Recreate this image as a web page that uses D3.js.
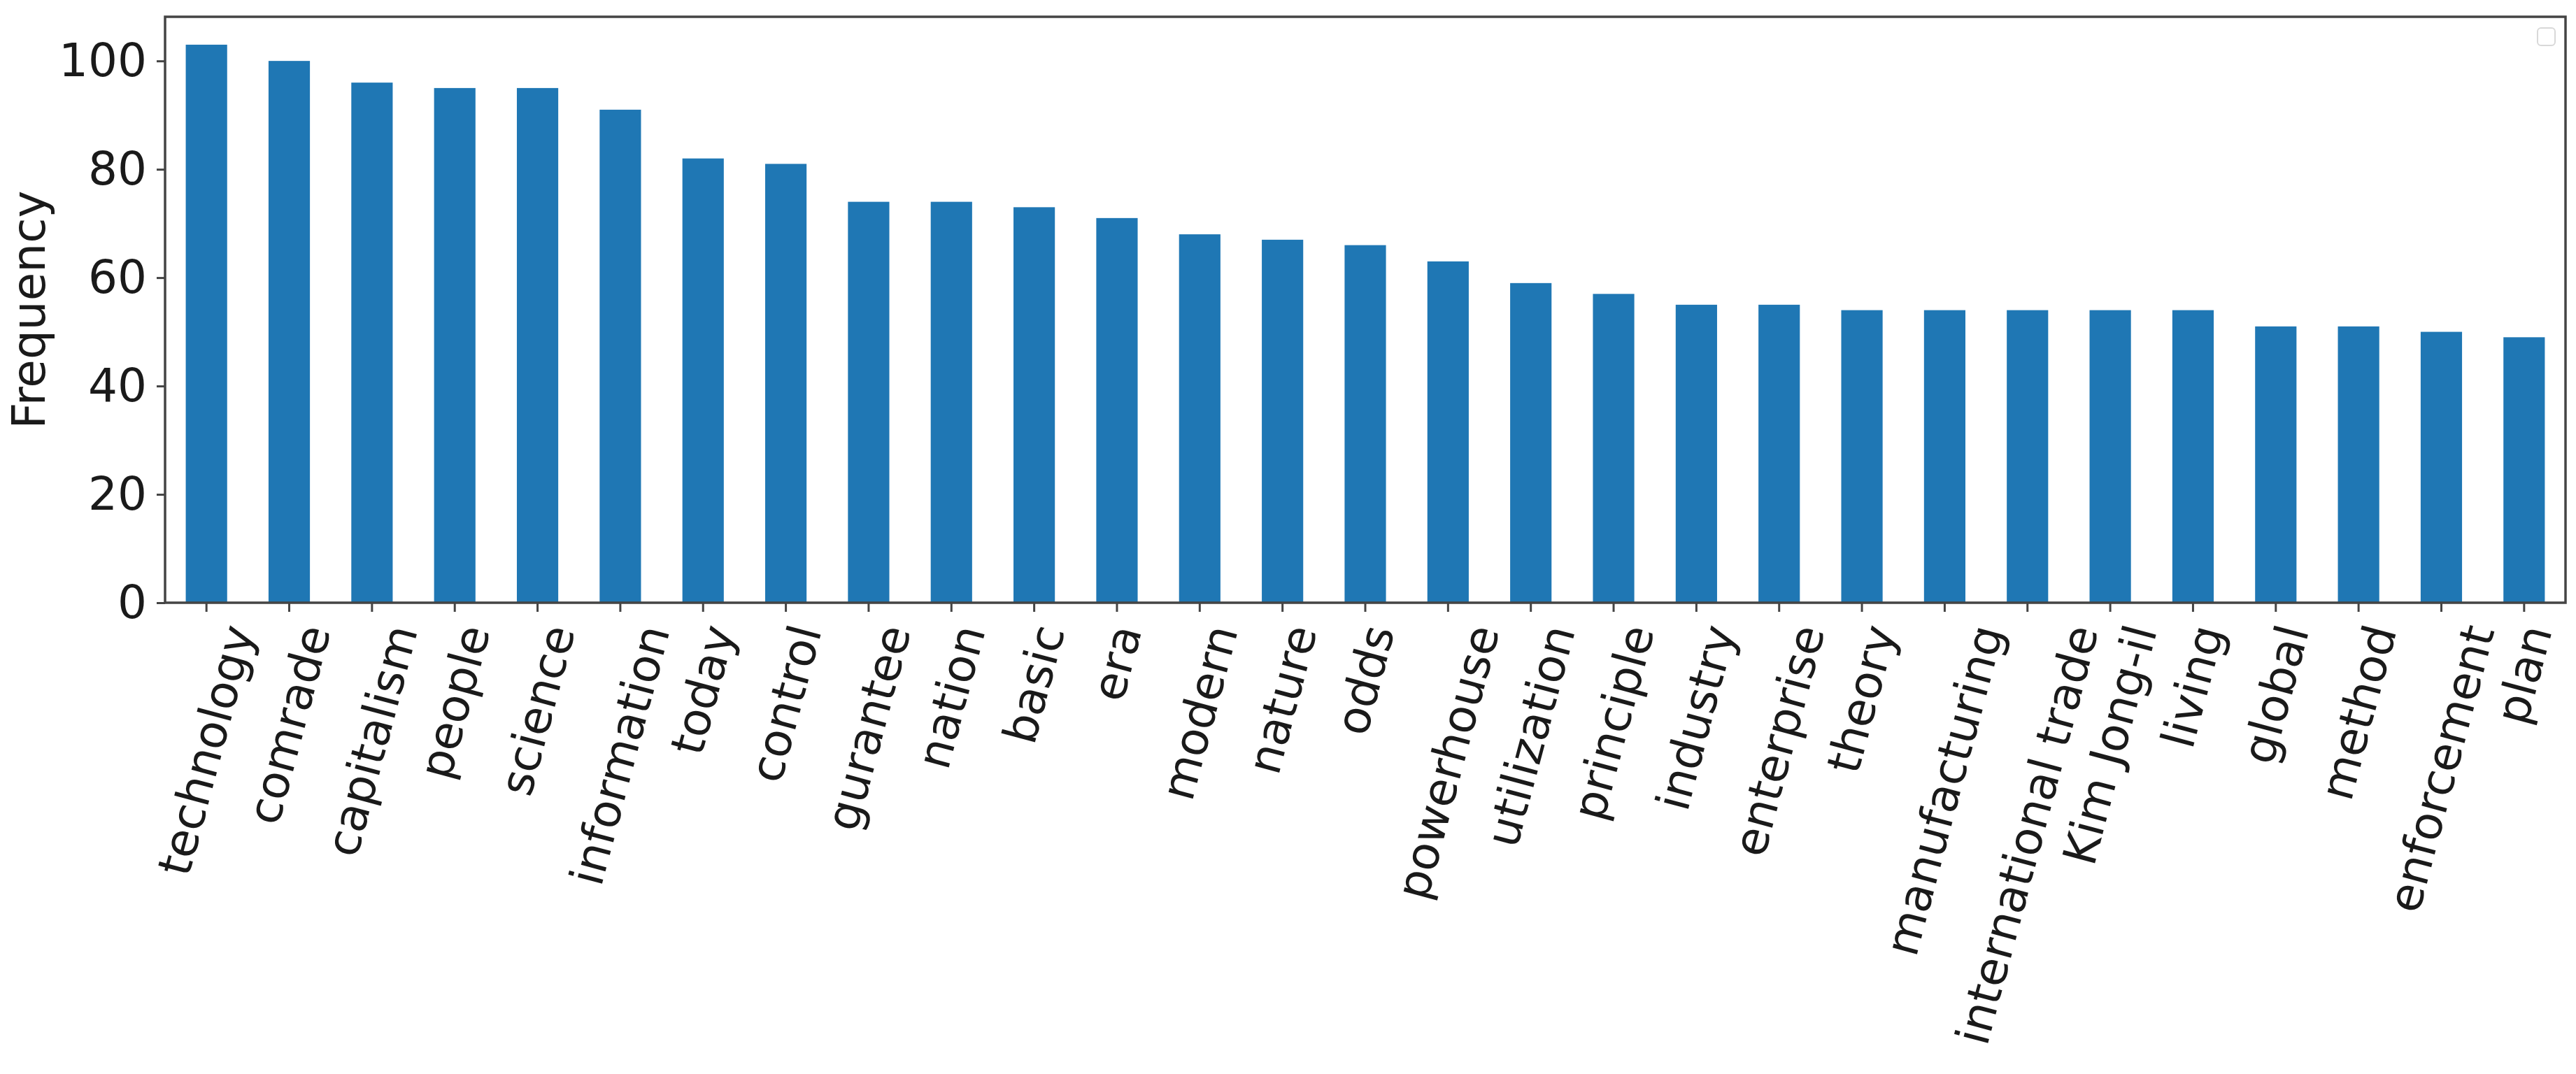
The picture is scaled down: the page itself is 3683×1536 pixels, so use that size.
<!DOCTYPE html>
<html>
<head>
<meta charset="utf-8">
<script src="https://cdn.jsdelivr.net/npm/d3@7"></script>
<style>
  html, body { margin: 0; padding: 0; background: #fff; }
  svg { display: block; }
  text { font-family: "DejaVu Sans", sans-serif; fill: #1a1a1a; }
</style>
</head>
<body>
<script>
const categories = ["technology", "comrade", "capitalism", "people", "science", "information", "today", "control", "gurantee", "nation", "basic", "era", "modern", "nature", "odds", "powerhouse", "utilization", "principle", "industry", "enterprise", "theory", "manufacturing", "international trade", "Kim Jong-il", "living", "global", "method", "enforcement", "plan"];
const frequencies = [103, 100, 96, 95, 95, 91, 82, 81, 74, 74, 73, 71, 68, 67, 66, 63, 59, 57, 55, 55, 54, 54, 54, 54, 54, 51, 51, 50, 49];
const yTicks = [0, 20, 40, 60, 80, 100];
const yLabel = "Frequency";

const W = 3683, H = 1536;
const m = { left: 236, right: W - 3668, top: 24, bottom: H - 862 };
const fontSize = 66;

const svg = d3.select("body").append("svg").attr("width", W).attr("height", H);

const x = d3.scaleBand().domain(categories).range([m.left, W - m.right]).paddingInner(0.5).paddingOuter(0.25);
const y = d3.scaleLinear().domain([0, d3.max(frequencies) * 1.05]).range([H - m.bottom, m.top]);

const data = categories.map((c, i) => ({ c, v: frequencies[i] }));

svg.append("g").selectAll("rect").data(data).join("rect")
  .attr("x", d => x(d.c))
  .attr("width", x.bandwidth())
  .attr("y", d => y(d.v))
  .attr("height", d => y(0) - y(d.v))
  .attr("fill", "#1f77b4");

// y axis
const yAxis = svg.append("g").attr("transform", `translate(${m.left},0)`)
  .call(d3.axisLeft(y).tickValues(yTicks).tickSize(12).tickPadding(14).tickFormat(d3.format("d")));
yAxis.select(".domain").remove();
yAxis.selectAll(".tick line").attr("stroke", "#444").attr("stroke-width", 3);
yAxis.selectAll(".tick text").attr("font-size", fontSize).attr("font-family", "DejaVu Sans").attr("fill", "#1a1a1a");

// x axis
const xAxis = svg.append("g").attr("transform", `translate(0,${H - m.bottom})`)
  .call(d3.axisBottom(x).tickSize(13).tickPadding(0));
xAxis.select(".domain").remove();
xAxis.selectAll(".tick line").attr("stroke", "#444").attr("stroke-width", 3);
const angle = 75 * Math.PI / 180;
const boxH = fontSize * 1.16;
const labelTop = 24;
xAxis.selectAll(".tick text")
  .attr("font-size", fontSize).attr("font-family", "DejaVu Sans").attr("fill", "#1a1a1a")
  .attr("y", 0).attr("dy", null)
  .attr("text-anchor", "middle")
  .attr("dominant-baseline", "central")
  .each(function() {
    const L = this.getComputedTextLength();
    const bh = L * Math.sin(angle) + boxH * Math.cos(angle);
    d3.select(this).attr("transform", `translate(0,${labelTop + bh / 2}) rotate(-75)`);
  });

// frame
svg.append("rect")
  .attr("x", m.left).attr("y", m.top)
  .attr("width", W - m.left - m.right).attr("height", H - m.top - m.bottom)
  .attr("fill", "none").attr("stroke", "#444").attr("stroke-width", 3.5);

// y label
svg.append("text")
  .attr("transform", `translate(64,${(m.top + H - m.bottom) / 2}) rotate(-90)`)
  .attr("text-anchor", "middle")
  .attr("font-size", fontSize)
  .text(yLabel);

// empty legend box
svg.append("rect")
  .attr("x", 3628).attr("y", 40).attr("width", 25).attr("height", 25).attr("rx", 5)
  .attr("fill", "#fff").attr("stroke", "#d8d8d8").attr("stroke-width", 2);
</script>
</body>
</html>
